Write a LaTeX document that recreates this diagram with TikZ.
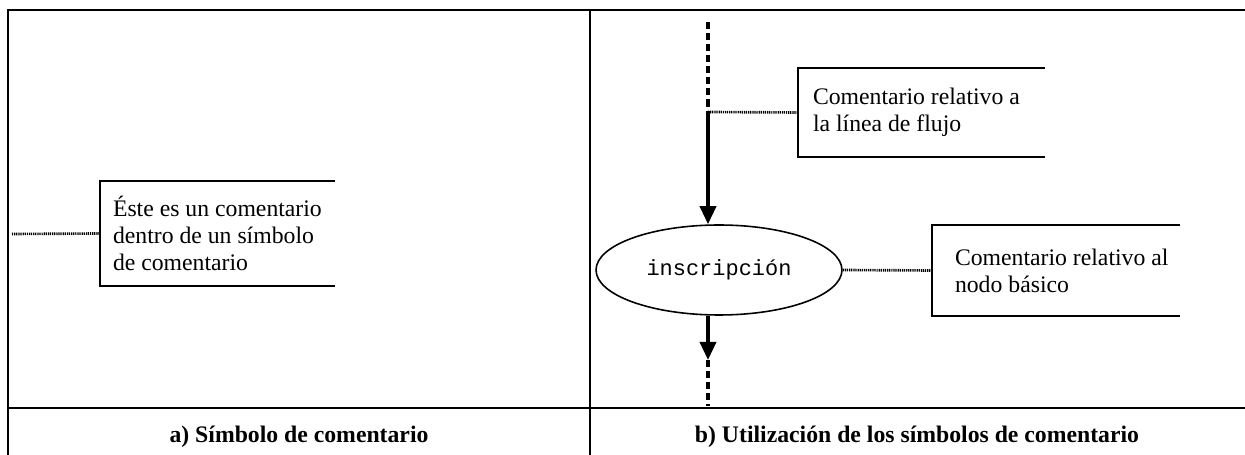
\documentclass[tikz,border=0pt]{standalone}
\usepackage{fontspec}
\setmainfont{Liberation Serif}
\setmonofont{Liberation Mono}
\usepackage{tikz}
\usetikzlibrary{shapes.geometric,arrows.meta}
\usetikzlibrary{positioning}

\begin{document}
\begin{tikzpicture}[x=0.02cm, y=-0.02cm,
  >={Triangle[length=0.36cm, width=0.32cm]},
  font=\fontsize{13.5}{15.4}\selectfont]
\tikzset{frame/.style = {draw, line width=1.4pt},
  cmtbox/.style = {inner sep=0pt},
  cmttext/.style = {align=left, inner sep=0pt, anchor=west},
  bracket/.style = {draw, line width=1pt},
  note/.style = {draw, line width=1.5pt, dash pattern=on 0.7pt off 0.5pt},
  flow/.style = {draw, line width=2pt},
  flowdash/.style = {draw, line width=1.8pt, dash pattern=on 4pt off 2.3pt},
  caption/.style = {font=\fontsize{13.5}{15.4}\selectfont\bfseries}}
\useasboundingbox (0,0) rectangle (1245,455);

  % frame
  \draw[frame] (8,470) -- (8,10) -- (1260,10);
  \draw[frame] (590,10) -- (590,470);
  \draw[frame] (8,408) -- (1260,408);

  \node[caption] (capa) at (299,437) {a) Símbolo de comentario};
  \node[caption] (capb) at (917,437) {b) Utilización de los símbolos de comentario};

  % a) comment symbol
  \node[cmtbox, minimum width=4.7cm, minimum height=2.1cm] (cmta) at (217.5,233.5) {};
  \node[cmttext, right=0.26cm of cmta.west] (txta)
    {Éste es un comentario\\dentro de un símbolo\\de comentario};
  \draw[bracket] (cmta.north east) -- (cmta.north west) -- (cmta.south west)
    -- (cmta.south east);
  \coordinate (enda) at (12,234);
  \draw[note] (enda) -- (cmta.west);

  % b) flow line and basic node
  \coordinate (flowtop) at (708,22);
  \coordinate (flowjoin) at (708,112);
  \node[draw, ellipse, line width=0.9pt, minimum width=4.92cm, minimum height=1.8cm,
    inner sep=0pt, font=\ttfamily\fontsize{12.5}{14}\selectfont] (insc) at (719,270)
    {inscripción};
  \coordinate (flowtip) at (708,360);
  \coordinate (flowbot) at (708,406);

  \draw[flowdash] (flowtop) -- (flowjoin);
  \draw[flow, ->] (flowjoin) -- (flowjoin |- insc.north);
  \draw[flow, ->] (flowjoin |- insc.south) -- (flowtip);
  \draw[flowdash] (flowtip) -- (flowbot);

  % b) comments
  \node[cmtbox, minimum width=4.94cm, minimum height=1.78cm] (cmtb) at (921.5,112.5) {};
  \node[cmttext, right=0.3cm of cmtb.west] (txtb)
    {Comentario relativo a\\la línea de flujo};
  \draw[bracket] (cmtb.north east) -- (cmtb.north west) -- (cmtb.south west)
    -- (cmtb.south east);
  \draw[note] (flowjoin) -- (cmtb.west);

  \node[cmtbox, minimum width=4.96cm, minimum height=1.82cm] (cmtc) at (1056,270.5) {};
  \node[cmttext, right=0.46cm of cmtc.west] (txtc)
    {Comentario relativo al\\nodo básico};
  \draw[bracket] (cmtc.north east) -- (cmtc.north west) -- (cmtc.south west)
    -- (cmtc.south east);
  \draw[note] (insc.east) -- (cmtc.west);

\end{tikzpicture}
\end{document}
